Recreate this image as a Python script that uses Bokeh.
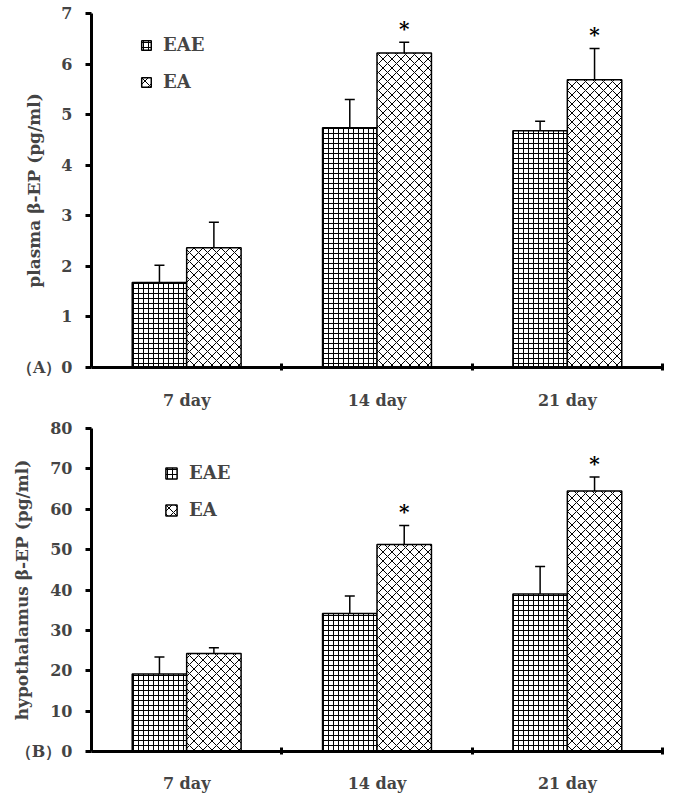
from bokeh.plotting import figure
from bokeh.models import (ColumnDataSource, FixedTicker, LinearAxis, Range1d,
                          Whisker, Legend, LegendItem, TeeHead)
from bokeh.layouts import column
from bokeh.embed import file_html
from bokeh.resources import INLINE
from bokeh.core.properties import value

# ---------------- data ----------------
categories = ["7 day", "14 day", "21 day"]
groups = ["EAE", "EA"]

plasma_eae = [1.68, 4.74, 4.68]
plasma_eae_err = [0.34, 0.56, 0.19]
plasma_ea = [2.37, 6.22, 5.69]
plasma_ea_err = [0.50, 0.21, 0.62]
plasma_sig = [False, True, True]

hypo_eae = [19.2, 34.2, 39.0]
hypo_eae_err = [4.2, 4.3, 6.8]
hypo_ea = [24.3, 51.3, 64.5]
hypo_ea_err = [1.4, 4.7, 3.5]
hypo_sig = [False, True, True]

SERIF = "DejaVu Serif"
BAR_W = 0.286


def make_panel(ylabel, tag, eae, eae_err, ea, ea_err, sig, ymax, ystep,
               frame_h, top_b, bottom_b, label_standoff, xlab_standoff,
               legend_loc, gsize):
    n = len(categories)
    xs = [i + 0.5 for i in range(n)]
    x_eae = [x - BAR_W / 2 for x in xs]
    x_ea = [x + BAR_W / 2 for x in xs]

    p = figure(frame_width=571, frame_height=frame_h,
               x_range=Range1d(0, n), y_range=Range1d(0, ymax),
               x_axis_location=None, y_axis_location=None,
               output_backend="svg", toolbar_location=None,
               min_border_left=91, min_border_right=12,
               min_border_top=top_b, min_border_bottom=bottom_b)
    p.outline_line_color = None
    p.xgrid.visible = False
    p.ygrid.visible = False
    p.background_fill_color = "white"
    p.border_fill_color = "white"

    s1 = ColumnDataSource(dict(x=x_eae, top=eae, hi=[a + b for a, b in zip(eae, eae_err)]))
    s2 = ColumnDataSource(dict(x=x_ea, top=ea, hi=[a + b for a, b in zip(ea, ea_err)],
                               star=["*" if s else "" for s in sig]))

    r1 = p.vbar(x="x", top="top", width=BAR_W, source=s1, fill_color="white",
                line_color="black", line_width=1.5, hatch_pattern="+",
                hatch_scale=5, hatch_weight=1, hatch_color="black")
    r2 = p.vbar(x="x", top="top", width=BAR_W, source=s2, fill_color="white",
                line_color="black", line_width=1.5, hatch_pattern="x",
                hatch_scale=9, hatch_weight=1, hatch_color="black")

    for s in (s1, s2):
        p.add_layout(Whisker(base="x", lower="top", upper="hi", source=s,
                             line_width=1.5, line_color="black", lower_head=None,
                             upper_head=TeeHead(size=10, line_width=1.5, line_color="black")))

    p.text(x="x", y="hi", text="star", source=s2, text_font=value(SERIF),
           text_font_style="bold", text_font_size="20px", text_align="center",
           text_baseline="bottom", y_offset=-1, text_color="black")

    # y axis (panel tag shares the "0" tick label, as in the original)
    yticks = list(range(0, ymax + 1, ystep))
    yax = LinearAxis(ticker=FixedTicker(ticks=yticks), axis_label=ylabel)
    yax.major_label_overrides = {0: tag + "0"}
    yax.axis_line_width = 3
    yax.major_tick_line_width = 3
    yax.major_tick_out = 6
    yax.major_tick_in = 0
    yax.minor_tick_line_color = None
    yax.major_label_text_font = SERIF
    yax.major_label_text_font_style = "bold"
    yax.major_label_text_font_size = "16px"
    yax.major_label_standoff = 13
    yax.axis_label_text_font = SERIF
    yax.axis_label_text_font_style = "bold"
    yax.axis_label_text_font_size = "17px"
    yax.axis_label_standoff = label_standoff
    p.add_layout(yax, "left")

    # x axis: boundary ticks
    xax1 = LinearAxis(ticker=FixedTicker(ticks=list(range(1, n + 1))))
    xax1.axis_line_width = 3
    xax1.major_tick_line_width = 3
    xax1.major_tick_out = 3
    xax1.major_tick_in = 4
    xax1.minor_tick_line_color = None
    xax1.major_label_overrides = {i: "" for i in range(1, n + 1)}
    xax1.major_label_text_font_size = "1px"
    xax1.major_label_standoff = 0
    p.add_layout(xax1, "below")

    # x axis: category labels
    xax2 = LinearAxis(ticker=FixedTicker(ticks=xs))
    xax2.axis_line_color = None
    xax2.major_tick_line_color = None
    xax2.major_tick_out = 0
    xax2.major_tick_in = 0
    xax2.minor_tick_line_color = None
    xax2.major_label_overrides = {x: c for x, c in zip(xs, categories)}
    xax2.major_label_text_font = SERIF
    xax2.major_label_text_font_style = "bold"
    xax2.major_label_text_font_size = "16px"
    xax2.major_label_standoff = xlab_standoff
    p.add_layout(xax2, "below")

    legend = Legend(items=[LegendItem(label=groups[0], renderers=[r1]),
                           LegendItem(label=groups[1], renderers=[r2])],
                    location=legend_loc, padding=0, margin=0,
                    glyph_width=gsize, glyph_height=gsize, label_standoff=11,
                    label_height=20, spacing=16,
                    label_text_font=SERIF, label_text_font_style="bold",
                    label_text_font_size="18px",
                    background_fill_alpha=0, border_line_color=None)
    p.add_layout(legend, "center")
    return p


top = make_panel("plasma β-EP (pg/ml)", "（A）", plasma_eae, plasma_eae_err,
                 plasma_ea, plasma_ea_err, plasma_sig, 7, 1,
                 354, 13, 41, -30, 20, (49, 275), 12)
bottom = make_panel("hypothalamus β-EP (pg/ml)", "（B）", hypo_eae, hypo_eae_err,
                    hypo_ea, hypo_ea_err, hypo_sig, 80, 10,
                    323, 16, 54, -19, 19, (73, 231), 14)

layout = column(top, bottom)
open("out.html", "w").write(file_html(layout, INLINE))
